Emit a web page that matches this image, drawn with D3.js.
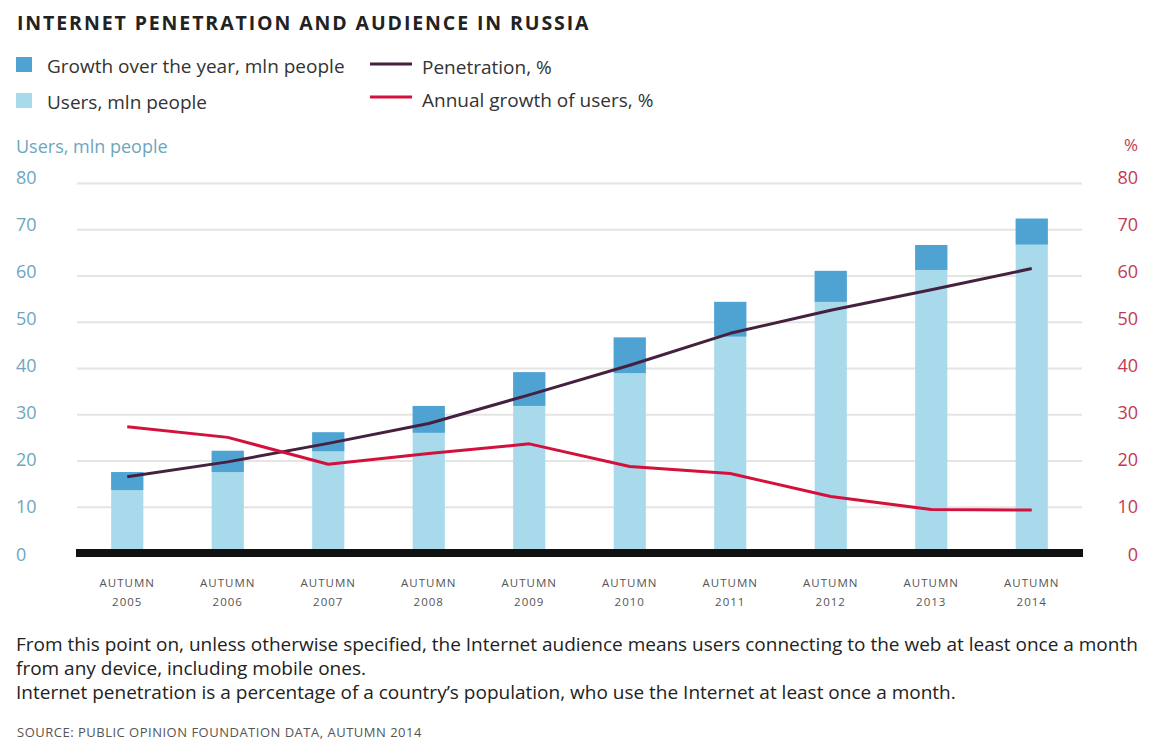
<!DOCTYPE html>
<html>
<head>
<meta charset="utf-8">
<script src="https://cdn.jsdelivr.net/npm/d3@7"></script>
<style>
  body { margin: 0; background: #fff; }
  text { font-family: "Open Sans", "Noto Sans", sans-serif; }
</style>
</head>
<body>
<svg></svg>
<script>
// data
const years = ['2005', '2006', '2007', '2008', '2009', '2010', '2011', '2012', '2013', '2014'];
const users = [17.5, 22.1, 26.1, 31.8, 39.1, 46.6, 54.3, 61.0, 66.6, 72.3];      // mln people
const growth = [3.9, 4.6, 4.1, 5.8, 7.3, 7.7, 7.5, 6.7, 5.4, 5.6];             // mln people over the year
const penetration = [16.5, 19.7, 23.7, 28.0, 34.2, 40.6, 47.5, 52.5, 56.9, 61.5]; // %
const annualGrowth = [27.3, 25.0, 19.2, 21.5, 23.6, 18.7, 17.2, 12.2, 9.4, 9.3];  // %
const ticks = [0, 10, 20, 30, 40, 50, 60, 70, 80];

const width = 1152;
const height = 744;
const plotL = 77, plotR = 1082, plotT = 183, plotB = 553;

const cDark = '#4fa3d3';
const cLight = '#a9daec';
const cPen = '#45213f';
const cAnn = '#d2113c';
const cBlueText = '#6ea6c0';
const cRedText = '#c23a52';

let svg = d3.select('svg')
    .attr('width', width)
    .attr('height', height);

let x = d3.scaleBand()
    .domain(years)
    .range([plotL, plotR])
    .paddingInner(0.68)
    .paddingOuter(0.34);

let y = d3.scaleLinear().domain([0, 80]).range([plotB, plotT]);
let yR = d3.scaleLinear().domain([0, 80]).range([plotB, plotT]);
// tick labels sit a touch looser than the grid
let yLab = d3.scaleLinear().domain([0, 80]).range([560, 183]);

// title
svg.append('text')
    .attr('x', 17).attr('y', 30)
    .attr('font-size', 19.5)
    .attr('font-weight', 700)
    .attr('letter-spacing', 1.9)
    .attr('fill', '#222')
    .text('INTERNET PENETRATION AND AUDIENCE IN RUSSIA');

// legend
const legendBoxes = [
    {label: 'Growth over the year, mln people', color: cDark, y: 57},
    {label: 'Users, mln people', color: cLight, y: 93}
];
legendBoxes.forEach(d => {
    svg.append('rect').attr('x', 16).attr('y', d.y).attr('width', 16).attr('height', 15).attr('fill', d.color);
    svg.append('text').attr('x', 47).attr('y', d.y + 16)
        .attr('font-size', 19).attr('fill', '#333').text(d.label);
});
const legendLines = [
    {label: 'Penetration, %', color: cPen, y: 64},
    {label: 'Annual growth of users, %', color: cAnn, y: 97}
];
legendLines.forEach(d => {
    svg.append('line').attr('x1', 370).attr('x2', 412).attr('y1', d.y).attr('y2', d.y)
        .attr('stroke', d.color).attr('stroke-width', 3);
    svg.append('text').attr('x', 422).attr('y', d.y + 9.5)
        .attr('font-size', 19).attr('fill', '#333').text(d.label);
});

// axis titles
svg.append('text').attr('x', 16).attr('y', 153)
    .attr('font-size', 18).attr('fill', cBlueText).text('Users, mln people');
svg.append('text').attr('x', 1138).attr('y', 151).attr('text-anchor', 'end')
    .attr('font-size', 17).attr('fill', cRedText).text('%');

// gridlines
let grid = svg.append('g')
    .attr('transform', `translate(${plotL},0)`)
    .call(d3.axisLeft(y).tickValues(ticks).tickSize(-(plotR - plotL)).tickFormat(''));
grid.select('.domain').remove();
grid.selectAll('line').attr('stroke', '#e4e4e4').attr('stroke-width', 2);

// left tick labels
let yAxis = svg.append('g')
    .attr('transform', 'translate(16,0)')
    .call(d3.axisLeft(yLab).tickValues(ticks).tickSize(0));
yAxis.select('.domain').remove();
yAxis.selectAll('text')
    .attr('x', 0).attr('dy', 0)
    .attr('text-anchor', 'start')
    .attr('font-family', '"Open Sans", sans-serif')
    .attr('font-size', 18)
    .attr('fill', cBlueText);

// right tick labels
let yAxisR = svg.append('g')
    .attr('transform', 'translate(1138,0)')
    .call(d3.axisRight(yLab).tickValues(ticks).tickSize(0));
yAxisR.select('.domain').remove();
yAxisR.selectAll('text')
    .attr('x', 0).attr('dy', 0)
    .attr('text-anchor', 'end')
    .attr('font-family', '"Open Sans", sans-serif')
    .attr('font-size', 18)
    .attr('fill', cRedText);

// bars: full users (light), growth (dark) on top
let bars = svg.append('g');
bars.selectAll('rect.users')
    .data(years)
    .enter().append('rect')
    .attr('class', 'users')
    .attr('x', d => x(d))
    .attr('width', x.bandwidth())
    .attr('y', (d, i) => y(users[i]))
    .attr('height', (d, i) => y(0) - y(users[i]))
    .attr('fill', cLight);
bars.selectAll('rect.growth')
    .data(years)
    .enter().append('rect')
    .attr('class', 'growth')
    .attr('x', d => x(d))
    .attr('width', x.bandwidth())
    .attr('y', (d, i) => y(users[i]))
    .attr('height', (d, i) => y(users[i] - growth[i]) - y(users[i]))
    .attr('fill', cDark);

// baseline
svg.append('line')
    .attr('x1', plotL - 1).attr('x2', plotR + 1)
    .attr('y1', y(0)).attr('y2', y(0))
    .attr('stroke', '#111').attr('stroke-width', 8);

// lines
const cx = d => x(d) + x.bandwidth() / 2;
const lineOf = vals => d3.line()
    .x(d => cx(d))
    .y((d, i) => yR(vals[i]));

svg.append('path')
    .datum(years)
    .attr('d', lineOf(penetration))
    .attr('fill', 'none')
    .attr('stroke', cPen)
    .attr('stroke-width', 3)
    .attr('stroke-linejoin', 'round');

svg.append('path')
    .datum(years)
    .attr('d', lineOf(annualGrowth))
    .attr('fill', 'none')
    .attr('stroke', cAnn)
    .attr('stroke-width', 3)
    .attr('stroke-linejoin', 'round');

// x labels
let xl = svg.append('g');
years.forEach(yr => {
    xl.append('text').attr('x', cx(yr)).attr('y', 587)
        .attr('text-anchor', 'middle').attr('font-size', 11.5).attr('letter-spacing', 1)
        .attr('fill', '#555').text('AUTUMN');
    xl.append('text').attr('x', cx(yr)).attr('y', 606)
        .attr('text-anchor', 'middle').attr('font-size', 11.5).attr('letter-spacing', 1)
        .attr('fill', '#555').text(yr);
});

// notes
const notes = [
    'From this point on, unless otherwise specified, the Internet audience means users connecting to the web at least once a month',
    'from any device, including mobile ones.',
    'Internet penetration is a percentage of a country\u2019s population, who use the Internet at least once a month.'
];
notes.forEach((t, i) => {
    svg.append('text').attr('x', 16).attr('y', 651 + i * 24)
        .attr('font-size', 19).attr('fill', '#222').text(t);
});
svg.append('text').attr('x', 17).attr('y', 737)
    .attr('font-size', 13).attr('letter-spacing', 0.5).attr('fill', '#555')
    .text('SOURCE: PUBLIC OPINION FOUNDATION DATA, AUTUMN 2014');
</script>
</body>
</html>
